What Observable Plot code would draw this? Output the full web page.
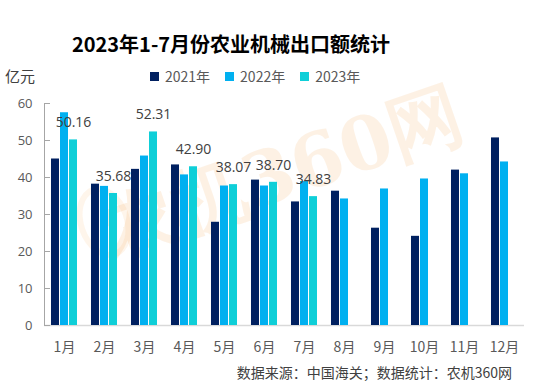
<!DOCTYPE html>
<html>
<head>
<meta charset="utf-8">
<script src="https://cdn.jsdelivr.net/npm/d3@7"></script>
<script src="https://cdn.jsdelivr.net/npm/@observablehq/plot@0.6"></script>
<style>
  body { margin: 0; background: #fff; }
  #wrap { position: relative; width: 542px; height: 386px; overflow: hidden; font-family: "Noto Sans CJK SC", sans-serif; }
  .abs { position: absolute; white-space: nowrap; }
  #title { left: 0; width: 462px; top: 30px; text-align: center; font-size: 20px; font-weight: bold; color: #000; line-height: 28px; }
  #unit { left: 5px; top: 65px; font-size: 15px; color: #404040; line-height: 22px; }
  #legend { left: 150px; top: 65px; font-size: 14px; color: #595959; line-height: 22px; display: flex; gap: 0; }
  .item { display: flex; align-items: center; margin-right: 15px; }
  .sw { width: 9px; height: 9px; margin-right: 6px; display: inline-block; }
  #caption { right: 30px; top: 361px; font-size: 14px; color: #404040; line-height: 22px; }
  #chart { position: absolute; left: 0; top: 88px; }
  #wm { left: 282px; top: 172px; font-size: 74px; font-weight: bold; color: #f39a3a; opacity: 0.13; transform: translate(-50%, -50%) rotate(-19deg); font-family: "DejaVu Serif", serif; line-height: 84px; }
  #ring { left: 78px; top: 185px; width: 40px; height: 62px; border: 6px solid #f39a3a; border-radius: 50%; opacity: 0.1; transform: rotate(-19deg); }
</style>
</head>
<body>
<div id="wrap">
  <div id="ring" class="abs"></div>
  <div id="wm" class="abs">农机360网</div>
  <div id="title" class="abs">2023年1-7月份农业机械出口额统计</div>
  <div id="unit" class="abs">亿元</div>
  <div id="legend" class="abs"></div>
  <div id="chart"></div>
  <div id="caption" class="abs">数据来源：中国海关；数据统计：农机360网</div>
</div>
<script>
const months = ["1月","2月","3月","4月","5月","6月","7月","8月","9月","10月","11月","12月"];
const years = ["2021年","2022年","2023年"];
const colors = ["#002060","#00B0F0","#0FCFD8"];
const v2021 = [45.0, 38.2, 42.2, 43.4, 27.9, 39.3, 33.4, 36.3, 26.3, 24.1, 42.0, 50.7];
const v2022 = [57.5, 37.6, 45.8, 40.7, 37.7, 37.7, 38.9, 34.2, 36.9, 39.6, 41.0, 44.2];
const v2023 = [50.16, 35.68, 52.31, 42.90, 38.07, 38.70, 34.83];
const yTicks = [0, 10, 20, 30, 40, 50, 60];

const data = [];
[v2021, v2022, v2023].forEach((arr, i) => {
  arr.forEach((v, j) => data.push({month: months[j], year: years[i], value: v}));
});
const labels = data.filter(d => d.year === "2023年");

const legend = document.getElementById("legend");
years.forEach((y, i) => {
  const it = document.createElement("div");
  it.className = "item";
  it.innerHTML = `<span class="sw" style="background:${colors[i]}"></span>${y}`;
  legend.appendChild(it);
});

const chart = Plot.plot({
  width: 542,
  height: 270,
  marginTop: 15,
  marginBottom: 33,
  marginLeft: 40,
  marginRight: 15,
  style: {fontFamily: "'Noto Sans CJK SC', sans-serif", color: "#595959", background: "transparent", overflow: "visible"},
  fx: {domain: months, paddingInner: 0, paddingOuter: 0, label: null},
  x: {domain: years, paddingInner: 0.06, paddingOuter: 0.735, axis: null},
  y: {domain: [0, 60], label: null},
  color: {domain: years, range: colors},
  marks: [
    Plot.ruleY([0], {stroke: "#d9d9d9", strokeWidth: 1.5}),
    Plot.barY(data, {fx: "month", x: "year", y: "value", fill: "year"}),
    Plot.text(labels, {fx: "month", x: "year", y: "value", text: d => d.value.toFixed(2), dy: -17, fontSize: 14, fill: "#404040", fontFamily: "'Open Sans', sans-serif"}),
    Plot.axisY({ticks: yTicks, tickSize: -6, tickPadding: 18, fontSize: 13, stroke: "#a6a6a6", fill: "#595959", label: null, fontFamily: "'Open Sans', sans-serif"}),
    Plot.axisFx({anchor: "bottom", tickSize: 0, tickPadding: 17, fontSize: 14, fill: "#595959", label: null}),
    Plot.frame({anchor: "left", facetAnchor: "left", stroke: "#a6a6a6"})
  ]
});
document.getElementById("chart").appendChild(chart);
</script>
</body>
</html>
